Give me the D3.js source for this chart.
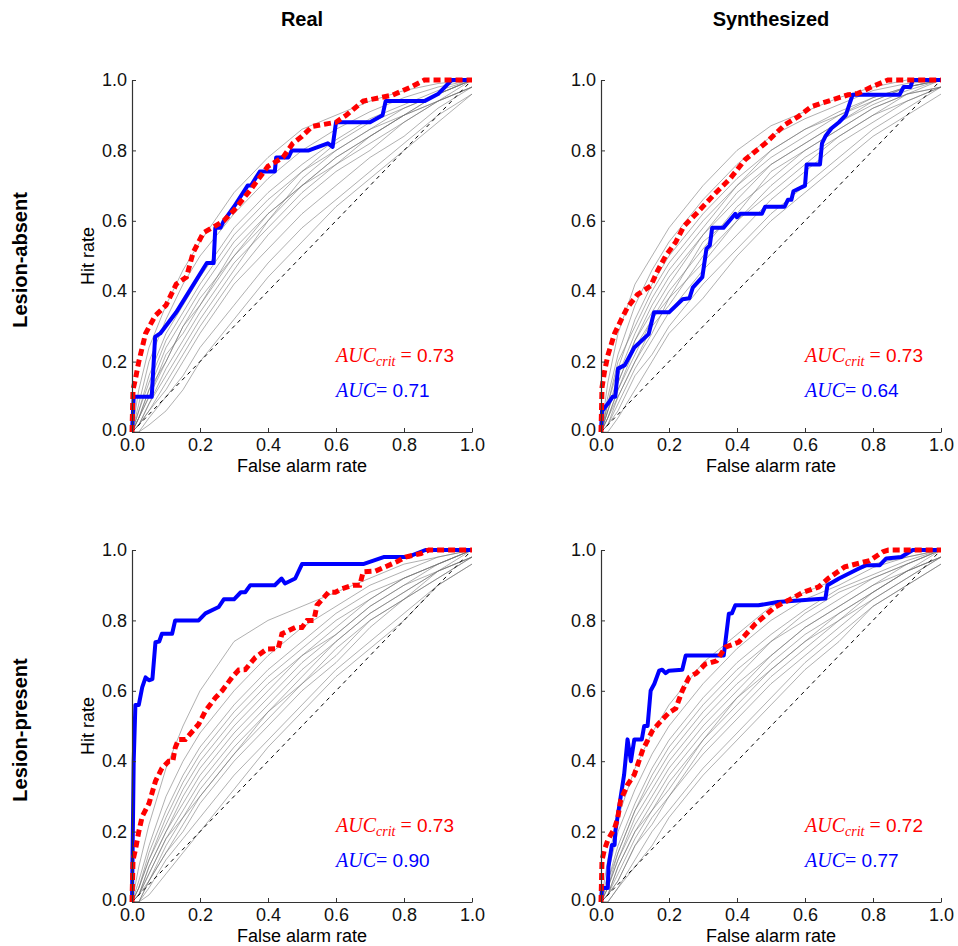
<!DOCTYPE html>
<html>
<head>
<meta charset="utf-8">
<script src="https://cdn.jsdelivr.net/npm/d3@7"></script>
<style>
  body { margin: 0; background: #fff; }
  text { font-family: "Liberation Sans", Arial, sans-serif; }
</style>
</head>
<body>
<svg id="chart" width="958" height="946"></svg>
<script>
// column / row headings
const colTitles = ["Real", "Synthesized"];
const rowTitles = ["Lesion-absent", "Lesion-present"];
const tickVals = [0, 0.2, 0.4, 0.6, 0.8, 1.0];

// AUC labels per panel (TL, TR, BL, BR)
const aucCrit = [0.73, 0.73, 0.73, 0.72];
const aucObs = [0.71, 0.64, 0.90, 0.77];

// observer curves (blue), [false alarm, hit]
const realAbsentBlue = [[0,0],[0.005,0.1],[0.058,0.1],[0.068,0.27],[0.083,0.28],[0.13,0.34],[0.22,0.48],[0.24,0.48],[0.245,0.58],[0.26,0.58],[0.27,0.6],[0.3,0.64],[0.34,0.7],[0.35,0.7],[0.376,0.74],[0.42,0.74],[0.424,0.78],[0.46,0.78],[0.47,0.8],[0.52,0.8],[0.576,0.82],[0.59,0.81],[0.6,0.88],[0.7,0.88],[0.737,0.9],[0.746,0.94],[0.86,0.94],[0.9,0.96],[0.92,0.98],[0.94,1],[1,1]];
const synthAbsentBlue = [[0,0],[0.003,0.06],[0.02,0.08],[0.034,0.1],[0.042,0.1],[0.05,0.18],[0.07,0.19],[0.098,0.24],[0.14,0.278],[0.156,0.34],[0.2,0.34],[0.24,0.377],[0.26,0.38],[0.27,0.41],[0.298,0.44],[0.31,0.52],[0.32,0.53],[0.327,0.58],[0.36,0.58],[0.395,0.62],[0.4,0.61],[0.41,0.62],[0.473,0.62],[0.483,0.64],[0.54,0.64],[0.55,0.66],[0.56,0.66],[0.566,0.684],[0.6,0.7],[0.605,0.76],[0.644,0.76],[0.65,0.82],[0.66,0.84],[0.678,0.863],[0.7,0.88],[0.72,0.9],[0.74,0.958],[0.878,0.958],[0.89,0.98],[0.91,0.98],[0.917,1],[1,1]];
const realPresentBlue = [[0,0],[0.005,0.4],[0.01,0.56],[0.02,0.56],[0.03,0.61],[0.04,0.638],[0.05,0.63],[0.06,0.633],[0.069,0.738],[0.08,0.74],[0.088,0.762],[0.118,0.762],[0.127,0.8],[0.196,0.8],[0.216,0.82],[0.255,0.838],[0.27,0.86],[0.3,0.86],[0.32,0.88],[0.333,0.88],[0.348,0.9],[0.42,0.9],[0.44,0.919],[0.45,0.905],[0.48,0.919],[0.5,0.96],[0.68,0.96],[0.74,0.98],[0.81,0.98],[0.863,1],[1,1]];
const synthPresentBlue = [[0,0],[0.003,0.04],[0.02,0.04],[0.022,0.1],[0.032,0.162],[0.04,0.162],[0.042,0.2],[0.052,0.262],[0.068,0.362],[0.078,0.462],[0.088,0.4],[0.098,0.462],[0.12,0.462],[0.127,0.5],[0.137,0.5],[0.146,0.6],[0.157,0.62],[0.171,0.657],[0.18,0.66],[0.19,0.65],[0.2,0.657],[0.239,0.66],[0.249,0.7],[0.361,0.7],[0.376,0.819],[0.385,0.82],[0.395,0.843],[0.463,0.843],[0.52,0.852],[0.66,0.862],[0.666,0.9],[0.7,0.919],[0.76,0.948],[0.78,0.957],[0.82,0.957],[0.839,0.976],[0.883,0.98],[0.9,0.99],[0.917,1],[1,1]];

// critical curves (red dashed)
const realAbsentRed = [[0,0],[0.003,0.12],[0.01,0.15],[0.02,0.2],[0.04,0.28],[0.068,0.33],[0.1,0.36],[0.13,0.42],[0.16,0.44],[0.18,0.51],[0.21,0.566],[0.244,0.585],[0.27,0.6],[0.3,0.63],[0.35,0.69],[0.4,0.755],[0.444,0.78],[0.473,0.82],[0.5,0.84],[0.53,0.868],[0.6,0.88],[0.63,0.9],[0.68,0.94],[0.73,0.95],[0.766,0.957],[0.82,0.98],[0.86,1],[1,1]];
const synthAbsentRed = [[0,0],[0.003,0.127],[0.01,0.17],[0.02,0.217],[0.04,0.28],[0.06,0.32],[0.078,0.354],[0.107,0.39],[0.146,0.415],[0.166,0.457],[0.19,0.5],[0.22,0.54],[0.244,0.585],[0.283,0.623],[0.337,0.679],[0.38,0.72],[0.424,0.774],[0.483,0.82],[0.541,0.873],[0.58,0.896],[0.62,0.925],[0.678,0.943],[0.727,0.958],[0.756,0.962],[0.795,0.98],[0.844,1],[1,1]];
const realPresentRed = [[0,0],[0.003,0.12],[0.01,0.148],[0.02,0.2],[0.03,0.243],[0.05,0.28],[0.069,0.343],[0.088,0.38],[0.108,0.4],[0.12,0.4],[0.127,0.438],[0.137,0.462],[0.157,0.462],[0.196,0.505],[0.216,0.543],[0.245,0.58],[0.265,0.6],[0.294,0.638],[0.314,0.659],[0.333,0.66],[0.363,0.695],[0.397,0.719],[0.43,0.72],[0.441,0.762],[0.48,0.78],[0.5,0.78],[0.515,0.8],[0.535,0.8],[0.544,0.843],[0.578,0.88],[0.598,0.88],[0.618,0.89],[0.65,0.9],[0.67,0.9],[0.68,0.938],[0.716,0.94],[0.78,0.967],[0.804,0.98],[0.85,0.99],[0.873,1],[1,1]];
const synthPresentRed = [[0,0],[0.003,0.12],[0.01,0.148],[0.02,0.176],[0.04,0.21],[0.049,0.238],[0.058,0.29],[0.078,0.333],[0.098,0.362],[0.122,0.43],[0.151,0.486],[0.176,0.514],[0.2,0.538],[0.22,0.55],[0.239,0.6],[0.259,0.638],[0.28,0.65],[0.307,0.676],[0.34,0.685],[0.366,0.724],[0.405,0.738],[0.454,0.79],[0.512,0.838],[0.551,0.857],[0.595,0.88],[0.64,0.895],[0.668,0.919],[0.717,0.952],[0.79,0.97],[0.829,0.995],[0.845,1],[1,1]];

// background curves (gray), hit rate at these false alarm rates
const grayX = [0, 0.02, 0.05, 0.1, 0.15, 0.2, 0.3, 0.4, 0.5, 0.6, 0.7, 0.8, 0.9, 1];
const realAbsentGray = [
  [0,0.12,0.24,0.36,0.46,0.54,0.68,0.78,0.86,0.90,0.94,0.97,0.99,1],
  [0,0.08,0.2,0.32,0.42,0.5,0.62,0.72,0.8,0.86,0.91,0.95,0.98,1],
  [0,0.06,0.16,0.28,0.36,0.44,0.58,0.68,0.76,0.83,0.89,0.93,0.97,1],
  [0,0.06,0.14,0.26,0.34,0.42,0.56,0.66,0.74,0.82,0.88,0.92,0.96,1],
  [0,0.04,0.12,0.24,0.32,0.4,0.54,0.64,0.74,0.8,0.86,0.92,0.96,1],
  [0,0.04,0.12,0.2,0.3,0.36,0.52,0.62,0.7,0.76,0.84,0.9,0.94,0.98],
  [0,0.04,0.1,0.22,0.28,0.36,0.5,0.6,0.72,0.8,0.86,0.9,0.94,0.98],
  [0,0.04,0.1,0.2,0.3,0.38,0.5,0.62,0.7,0.78,0.84,0.9,0.96,1],
  [0,0.02,0.08,0.18,0.26,0.34,0.48,0.58,0.68,0.76,0.82,0.88,0.94,1],
  [0,0.02,0.08,0.16,0.24,0.32,0.46,0.6,0.7,0.78,0.84,0.9,0.96,1],
  [0,0.02,0.06,0.14,0.22,0.3,0.44,0.56,0.66,0.74,0.8,0.88,0.94,0.98],
  [0,0.02,0.06,0.12,0.2,0.28,0.42,0.52,0.62,0.7,0.78,0.84,0.92,0.98],
  [0,0,0.04,0.1,0.16,0.24,0.36,0.48,0.58,0.66,0.74,0.82,0.9,0.96],
  [0,0,0.02,0.06,0.12,0.2,0.32,0.44,0.54,0.64,0.72,0.8,0.88,0.96]
];
const synthAbsentGray = [
  [0,0.14,0.28,0.42,0.5,0.58,0.7,0.8,0.87,0.91,0.95,0.98,1,1],
  [0,0.1,0.22,0.36,0.46,0.54,0.66,0.76,0.84,0.89,0.93,0.97,0.99,1],
  [0,0.08,0.2,0.3,0.4,0.48,0.6,0.7,0.8,0.86,0.9,0.95,0.98,1],
  [0,0.08,0.18,0.32,0.42,0.5,0.62,0.72,0.8,0.86,0.91,0.95,0.98,1],
  [0,0.06,0.16,0.28,0.38,0.46,0.58,0.7,0.78,0.84,0.9,0.94,0.98,1],
  [0,0.06,0.14,0.26,0.36,0.44,0.56,0.68,0.76,0.82,0.88,0.94,0.98,1],
  [0,0.06,0.14,0.26,0.34,0.42,0.56,0.66,0.76,0.82,0.88,0.93,0.97,1],
  [0,0.04,0.12,0.24,0.32,0.4,0.52,0.64,0.72,0.8,0.86,0.92,0.96,1],
  [0,0.04,0.12,0.22,0.32,0.38,0.54,0.62,0.74,0.8,0.86,0.92,0.96,0.98],
  [0,0.04,0.1,0.2,0.3,0.36,0.5,0.6,0.7,0.78,0.84,0.9,0.96,0.98],
  [0,0.02,0.1,0.2,0.28,0.38,0.48,0.6,0.68,0.76,0.84,0.9,0.94,0.98],
  [0,0.02,0.08,0.18,0.26,0.34,0.46,0.56,0.66,0.74,0.82,0.88,0.94,0.98],
  [0,0.02,0.06,0.16,0.22,0.3,0.42,0.52,0.62,0.7,0.78,0.86,0.92,0.98],
  [0,0,0.04,0.12,0.2,0.28,0.38,0.5,0.6,0.68,0.76,0.84,0.9,0.96]
];
const realPresentGray = [
  [0,0.1,0.22,0.38,0.5,0.6,0.74,0.8,0.84,0.88,0.92,0.96,0.98,1],
  [0,0.06,0.16,0.3,0.4,0.48,0.6,0.7,0.78,0.84,0.9,0.94,0.98,1],
  [0,0.04,0.14,0.26,0.36,0.44,0.56,0.66,0.74,0.82,0.88,0.92,0.96,1],
  [0,0.04,0.12,0.24,0.34,0.42,0.54,0.64,0.72,0.8,0.86,0.92,0.96,1],
  [0,0.04,0.12,0.22,0.32,0.4,0.52,0.62,0.7,0.78,0.86,0.92,0.96,1],
  [0,0.02,0.1,0.2,0.3,0.38,0.5,0.6,0.7,0.76,0.84,0.9,0.94,0.98],
  [0,0.02,0.1,0.2,0.28,0.36,0.48,0.58,0.68,0.76,0.84,0.9,0.96,1],
  [0,0.02,0.08,0.18,0.26,0.34,0.46,0.56,0.66,0.74,0.82,0.88,0.94,0.98],
  [0,0.02,0.08,0.18,0.24,0.32,0.44,0.54,0.64,0.74,0.82,0.88,0.94,1],
  [0,0.02,0.06,0.16,0.24,0.3,0.42,0.52,0.62,0.72,0.8,0.86,0.94,0.98],
  [0,0,0.06,0.14,0.22,0.3,0.42,0.54,0.62,0.7,0.8,0.86,0.92,0.98],
  [0,0,0.06,0.14,0.2,0.28,0.4,0.5,0.6,0.68,0.78,0.86,0.92,0.98],
  [0,0,0.04,0.12,0.18,0.24,0.36,0.46,0.56,0.66,0.74,0.82,0.9,0.96],
  [0,0,0.02,0.08,0.14,0.2,0.32,0.44,0.54,0.64,0.72,0.8,0.9,0.96]
];
const synthPresentGray = [
  [0,0.12,0.24,0.38,0.48,0.56,0.68,0.76,0.84,0.88,0.92,0.96,0.98,1],
  [0,0.08,0.2,0.32,0.42,0.5,0.62,0.72,0.8,0.86,0.9,0.95,0.98,1],
  [0,0.06,0.16,0.28,0.38,0.46,0.58,0.68,0.76,0.83,0.89,0.93,0.97,1],
  [0,0.06,0.14,0.26,0.36,0.44,0.56,0.66,0.74,0.82,0.88,0.92,0.96,1],
  [0,0.04,0.14,0.26,0.34,0.42,0.54,0.64,0.74,0.8,0.86,0.92,0.96,1],
  [0,0.04,0.12,0.24,0.32,0.4,0.52,0.62,0.7,0.78,0.84,0.9,0.96,1],
  [0,0.04,0.12,0.22,0.3,0.38,0.5,0.6,0.7,0.78,0.84,0.9,0.94,0.98],
  [0,0.02,0.1,0.2,0.28,0.36,0.48,0.58,0.68,0.76,0.82,0.88,0.94,0.98],
  [0,0.02,0.1,0.2,0.26,0.34,0.46,0.58,0.66,0.74,0.82,0.88,0.94,1],
  [0,0.02,0.08,0.18,0.26,0.32,0.46,0.56,0.66,0.74,0.8,0.88,0.94,0.98],
  [0,0.02,0.06,0.16,0.24,0.3,0.44,0.54,0.64,0.72,0.8,0.86,0.92,0.98],
  [0,0.02,0.06,0.16,0.22,0.3,0.42,0.52,0.62,0.7,0.78,0.86,0.92,0.98],
  [0,0,0.04,0.12,0.2,0.26,0.38,0.48,0.58,0.68,0.76,0.84,0.9,0.96],
  [0,0,0.04,0.1,0.16,0.24,0.36,0.46,0.56,0.66,0.74,0.84,0.9,0.96]
];

const blueCurves = [realAbsentBlue, synthAbsentBlue, realPresentBlue, synthPresentBlue];
const redCurves = [realAbsentRed, synthAbsentRed, realPresentRed, synthPresentRed];
const grayCurves = [realAbsentGray, synthAbsentGray, realPresentGray, synthPresentGray];

// layout
const colLeft = [132, 601];
const rowTop = [80, 550];
const W = 340, H = 352;

const svg = d3.select('#chart');

const x = d3.scaleLinear().domain([0, 1]).range([0, W]);
const y = d3.scaleLinear().domain([0, 1]).range([H, 0]);
const line = d3.line().x(d => x(d[0])).y(d => y(d[1]));
const fmt = d3.format('.1f');
const fmt2 = d3.format('.2f');
const serif = '"Liberation Serif", "DejaVu Serif", serif';

// column titles
colTitles.forEach((t, c) => {
  svg.append('text')
    .attr('x', colLeft[c] + W / 2)
    .attr('y', 26)
    .attr('text-anchor', 'middle')
    .attr('font-size', 20)
    .attr('font-weight', 'bold')
    .text(t);
});

// row titles
rowTitles.forEach((t, r) => {
  svg.append('text')
    .attr('transform', `translate(27, ${rowTop[r] + H / 2 + 4}) rotate(-90)`)
    .attr('text-anchor', 'middle')
    .attr('font-size', 20)
    .attr('font-weight', 'bold')
    .text(t);
});

for (let r = 0; r < 2; r++) {
  for (let c = 0; c < 2; c++) {
    const i = r * 2 + c;
    const g = svg.append('g').attr('transform', `translate(${colLeft[c]}, ${rowTop[r]})`);

    // gray background curves
    g.selectAll('path.gray')
      .data(grayCurves[i])
      .enter()
      .append('path')
      .attr('class', 'gray')
      .attr('d', ys => line(ys.map((v, k) => [grayX[k], v])))
      .attr('fill', 'none')
      .attr('stroke', '#707070')
      .attr('stroke-opacity', 0.55)
      .attr('stroke-width', 1);

    // chance diagonal
    g.append('path')
      .attr('d', line([[0, 0], [1, 1]]))
      .attr('fill', 'none')
      .attr('stroke', '#000')
      .attr('stroke-width', 1)
      .attr('stroke-dasharray', '4,4');

    // observer
    g.append('path')
      .attr('d', line(blueCurves[i]))
      .attr('fill', 'none')
      .attr('stroke', '#0000ff')
      .attr('stroke-width', 4)
      .attr('stroke-linejoin', 'round');

    // critical
    g.append('path')
      .attr('d', line(redCurves[i]))
      .attr('fill', 'none')
      .attr('stroke', '#ff0000')
      .attr('stroke-width', 5)
      .attr('stroke-dasharray', '7,4');

    // axes
    const xa = g.append('g')
      .attr('transform', `translate(0, ${H})`)
      .call(d3.axisBottom(x).tickValues(tickVals).tickFormat(fmt).tickSize(-4).tickSizeOuter(0).tickPadding(6));
    const ya = g.append('g')
      .call(d3.axisLeft(y).tickValues(tickVals).tickFormat(fmt).tickSize(-4).tickSizeOuter(0).tickPadding(5));
    [xa, ya].forEach(a => {
      a.select('.domain').attr('stroke', '#333').attr('stroke-width', 1.2);
      a.selectAll('.tick line').attr('stroke', '#333');
      a.selectAll('.tick text')
        .attr('font-size', 18)
        .attr('fill', '#111')
        .attr('font-family', '"Liberation Sans", Arial, sans-serif');
    });
    // lift the y "0.0" label a touch so it clears the x "0.0" label
    ya.selectAll('.tick text').filter(d => d === 0).attr('dy', '0.2em');

    // axis labels
    g.append('text')
      .attr('x', W / 2)
      .attr('y', H + 40)
      .attr('text-anchor', 'middle')
      .attr('font-size', 18)
      .text('False alarm rate');
    if (c === 0) {
      g.append('text')
        .attr('transform', `translate(-38, ${H / 2}) rotate(-90)`)
        .attr('text-anchor', 'middle')
        .attr('font-size', 18)
        .text('Hit rate');
    }

    // AUC annotations
    const aucRows = [
      { v: aucCrit[i], sub: 'crit', col: '#ff0000', yv: 0.2 },
      { v: aucObs[i], sub: null, col: '#0000ff', yv: 0.1 }
    ];
    aucRows.forEach(a => {
      const t = g.append('text')
        .attr('x', x(0.6))
        .attr('y', y(a.yv))
        .attr('fill', a.col);
      t.append('tspan')
        .attr('font-family', serif)
        .attr('font-style', 'italic')
        .attr('font-size', 20)
        .text('AUC');
      if (a.sub) {
        t.append('tspan')
          .attr('font-family', serif)
          .attr('font-style', 'italic')
          .attr('font-size', 14)
          .attr('dy', 4)
          .text('crit');
        t.append('tspan')
          .attr('font-family', serif)
          .attr('font-size', 20)
          .attr('dy', -4)
          .text(' =');
      } else {
        t.append('tspan')
          .attr('font-family', serif)
          .attr('font-size', 20)
          .text('=');
      }
      t.append('tspan')
        .attr('font-size', 19)
        .text('\u00a0' + fmt2(a.v));
    });
  }
}
</script>
</body>
</html>
